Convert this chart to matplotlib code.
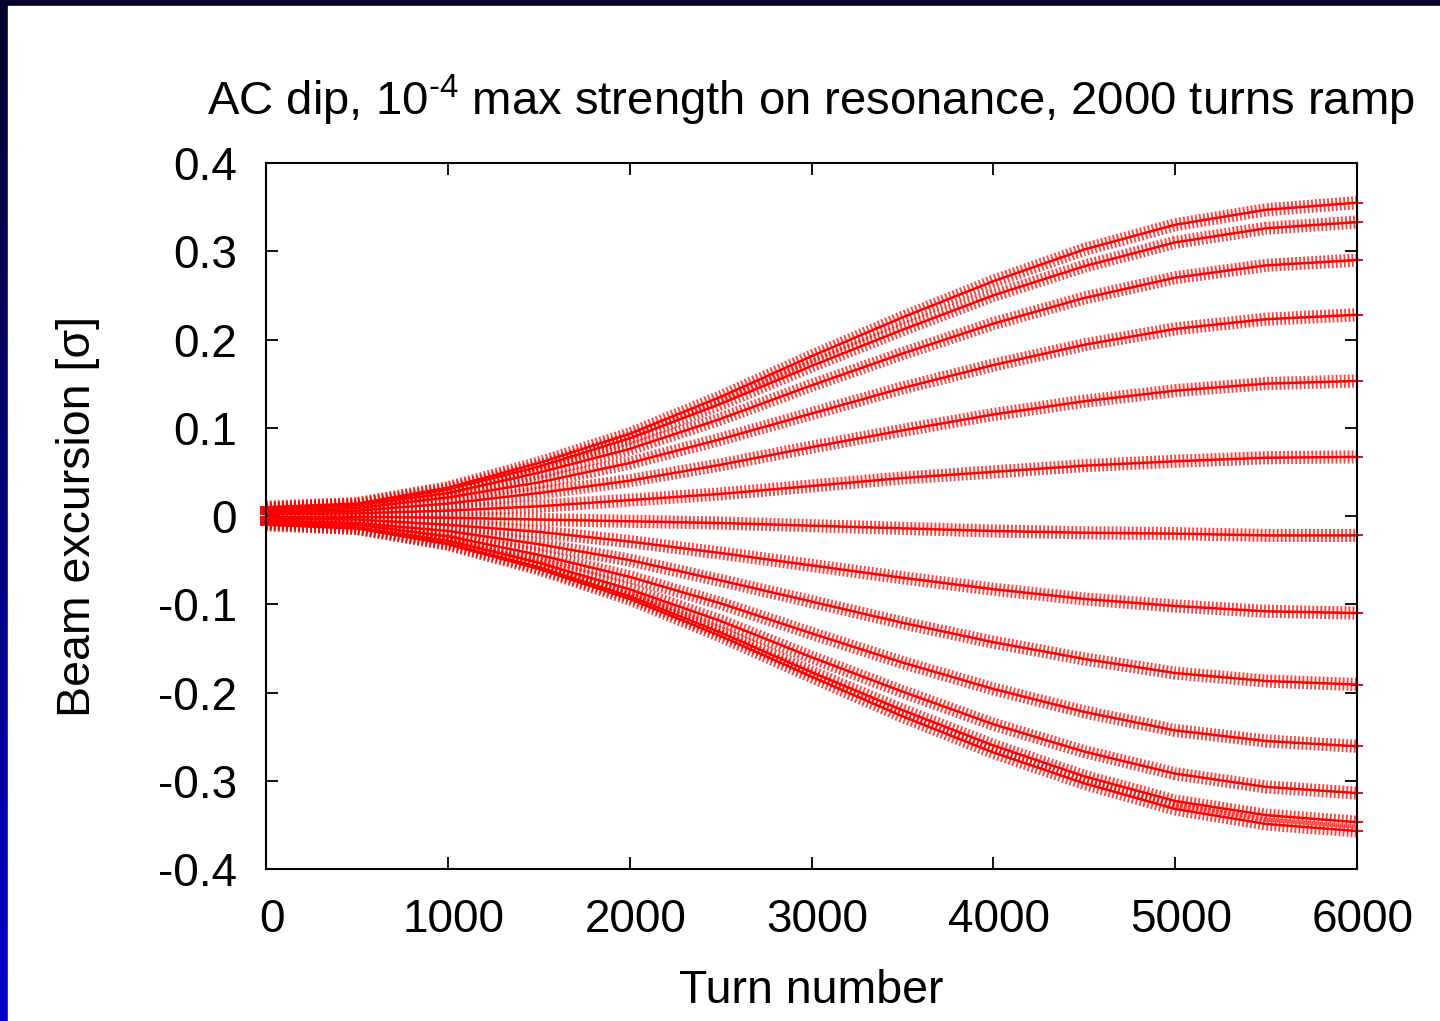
import matplotlib

matplotlib.use("Agg")
import matplotlib.pyplot as plt
import matplotlib.transforms as mtransforms
import numpy as np
from matplotlib.colors import LinearSegmentedColormap
from matplotlib.patches import Rectangle

turns = [0, 500, 1000, 1500, 2000, 2500, 3000, 3500, 4000, 4500, 5000, 5500, 6000]

# beam excursion [sigma] of each stroboscopic band, top to bottom
band_01 = [0.010, 0.014, 0.032, 0.060, 0.093, 0.135, 0.181, 0.225, 0.266, 0.302, 0.330, 0.347, 0.355]
band_02 = [0.009, 0.013, 0.030, 0.056, 0.088, 0.127, 0.170, 0.211, 0.250, 0.283, 0.310, 0.326, 0.333]
band_03 = [0.008, 0.012, 0.026, 0.049, 0.076, 0.110, 0.148, 0.184, 0.218, 0.247, 0.270, 0.284, 0.290]
band_04 = [0.006, 0.009, 0.021, 0.038, 0.060, 0.087, 0.116, 0.145, 0.171, 0.194, 0.212, 0.223, 0.228]
band_05 = [0.004, 0.006, 0.014, 0.026, 0.040, 0.058, 0.078, 0.097, 0.115, 0.130, 0.142, 0.150, 0.153]
band_06 = [0.002, 0.003, 0.006, 0.011, 0.018, 0.025, 0.034, 0.043, 0.050, 0.057, 0.062, 0.066, 0.067]
band_07 = [-0.001, -0.001, -0.002, -0.004, -0.006, -0.008, -0.011, -0.014, -0.017, -0.019, -0.020, -0.022, -0.022]
band_08 = [-0.003, -0.004, -0.010, -0.018, -0.029, -0.042, -0.056, -0.070, -0.083, -0.094, -0.102, -0.108, -0.110]
band_09 = [-0.005, -0.008, -0.017, -0.032, -0.050, -0.073, -0.097, -0.121, -0.143, -0.162, -0.178, -0.187, -0.191]
band_10 = [-0.007, -0.010, -0.023, -0.044, -0.069, -0.099, -0.133, -0.166, -0.196, -0.222, -0.243, -0.255, -0.261]
band_11 = [-0.008, -0.013, -0.028, -0.053, -0.083, -0.119, -0.160, -0.199, -0.236, -0.267, -0.292, -0.307, -0.314]
band_12 = [-0.009, -0.014, -0.031, -0.058, -0.091, -0.132, -0.177, -0.220, -0.260, -0.295, -0.323, -0.339, -0.347]
band_13 = [-0.010, -0.014, -0.032, -0.060, -0.094, -0.136, -0.182, -0.227, -0.268, -0.303, -0.332, -0.349, -0.357]

xtick_values = [0, 1000, 2000, 3000, 4000, 5000, 6000]
xtick_labels = ["0", "1000", "2000", "3000", "4000", "5000", "6000"]
ytick_values = [-0.4, -0.3, -0.2, -0.1, 0.0, 0.1, 0.2, 0.3, 0.4]
ytick_labels = ["-0.4", "-0.3", "-0.2", "-0.1", "0", "0.1", "0.2", "0.3", "0.4"]

title = r"AC dip, 10$^{\text{-4}}$ max strength on resonance, 2000 turns ramp"

plt.rcParams["font.family"] = "Liberation Sans"
plt.rcParams["mathtext.fontset"] = "custom"
plt.rcParams["mathtext.rm"] = "Liberation Sans"
plt.rcParams["lines.scale_dashes"] = False

W, H = 1440, 1021
fig = plt.figure(figsize=(W / 100, H / 100), dpi=100)

# slide frame: blue gradient strip on the left and top edges
bg = fig.add_axes([0, 0, 1, 1], zorder=-10)
frame_cmap = LinearSegmentedColormap.from_list("frame", ["#03032c", "#0000cc"])
bg.imshow(np.linspace(0, 1, 256).reshape(-1, 1), cmap=frame_cmap, aspect="auto", extent=[0, 1, 0, 1])
bg.add_patch(Rectangle((8 / W, 0), 1, 1 - 6 / H, color="white"))
bg.set_xlim(0, 1)
bg.set_ylim(0, 1)
bg.axis("off")

ax = fig.add_axes([266 / W, 1 - 869 / H, (1357 - 266) / W, (869 - 163) / H])

bands = [band_01, band_02, band_03, band_04, band_05, band_06, band_07,
         band_08, band_09, band_10, band_11, band_12, band_13]
for vals in bands:
    ax.plot(turns, vals, color="red", lw=1.8, marker="+", ms=9, mew=1.4,
            markevery=[0, len(turns) - 1], clip_on=False)
    # dense '+' texture: thick dashed stroke gives the vertical bars
    ax.plot(turns, vals, color="red", lw=9.5, dashes=(1.3, 1.6), alpha=0.75,
            dash_joinstyle="round", clip_on=False)

ax.set_xlim(0, 6000)
ax.set_ylim(-0.4, 0.4)
ax.set_xticks(xtick_values)
ax.set_xticklabels(xtick_labels)
ax.set_yticks(ytick_values)
ax.set_yticklabels(ytick_labels)
ax.tick_params(direction="in", length=8.5, width=1.3, top=True, right=True, labelsize=33)
ax.tick_params(axis="x", pad=21)
ax.tick_params(axis="y", pad=21)
shift = mtransforms.ScaledTranslation(6 / 100, 0, fig.dpi_scale_trans)
for lab in ax.get_xticklabels():
    lab.set_transform(lab.get_transform() + shift)
for sp in ax.spines.values():
    sp.set_linewidth(1.5)

ax.set_xlabel("Turn number", fontsize=33.5, va="top")
ax.xaxis.set_label_coords(0.5, -0.141)
ax.set_ylabel("Beam excursion [σ]", fontsize=33.5)
ax.yaxis.set_label_coords(-0.152, 0.5)

fig.text(811 / W, 1 - 115 / H, title, fontsize=34, ha="center", va="baseline")

fig.savefig("out.png", dpi=100)
